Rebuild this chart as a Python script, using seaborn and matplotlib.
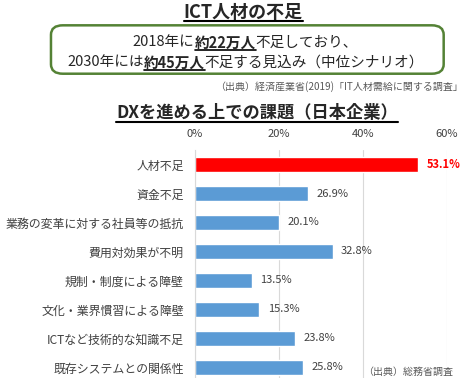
import matplotlib.pyplot as plt
import seaborn as sns
import pandas as pd
from matplotlib.lines import Line2D
from matplotlib.patches import FancyBboxPatch

categories = ["人材不足", "資金不足", "業務の変革に対する社員等の抵抗", "費用対効果が不明",
              "規制・制度による障壁", "文化・業界慣習による障壁", "ICTなど技術的な知識不足",
              "既存システムとの関係性"]
values = [53.1, 26.9, 20.1, 32.8, 13.5, 15.3, 23.8, 25.8]
bar_colors = ["#ff0000"] + ["#5b9bd5"] * 7
xticks = [0, 20, 40, 60]

sns.set_style("white")
plt.rcParams["font.family"] = ["Noto Sans CJK JP", "DejaVu Sans"]

df = pd.DataFrame({"cat": categories, "val": values})

fig = plt.figure(figsize=(4.72, 3.78), dpi=100)
ax = fig.add_axes([0.413, -0.01, 0.534, 0.613])
sns.barplot(data=df, y="cat", x="val", hue="cat", palette=bar_colors, legend=False,
            width=0.5, ax=ax, saturation=1)
ax.set_xlim(0, 60)
ax.set_ylim(7.5, -0.5)
ax.set_xticks(xticks)
ax.set_xticklabels([f"{t}%" for t in xticks])
ax.xaxis.tick_top()
ax.tick_params(axis="x", length=0, labelsize=8, colors="#404040", pad=8)
ax.tick_params(axis="y", length=0, labelsize=8.6, colors="#404040", pad=8)
ax.set_xlabel("")
ax.set_ylabel("")
ax.grid(axis="x", color="#d9d9d9", linewidth=0.8)
ax.set_axisbelow(True)
for s in ["top", "right", "bottom"]:
    ax.spines[s].set_visible(False)
ax.spines["left"].set_color("#d9d9d9")

for i, v in enumerate(values):
    if i == 0:
        ax.text(v + 2, i, f"{v}%", va="center", ha="left", fontsize=8,
                color="#ff0000", fontweight="bold")
    else:
        ax.text(v + 2, i, f"{v}%", va="center", ha="left", fontsize=8, color="#404040")

renderer = fig.canvas.get_renderer()


def underline(t, lw=1.5):
    bb = t.get_window_extent(renderer).transformed(fig.transFigure.inverted())
    fig.add_artist(Line2D([bb.x0, bb.x1], [bb.y0 + 0.002, bb.y0 + 0.002],
                          transform=fig.transFigure, color="black", linewidth=lw))


def segments(parts, y, size, cx):
    # lay out a line of (text, bold, underline) parts centered at cx
    texts = []
    for s, bold, _ in parts:
        texts.append(fig.text(0, y, s, fontsize=size, va="center", ha="left",
                              fontweight="bold" if bold else "normal"))
    widths = [t.get_window_extent(renderer).width / fig.bbox.width for t in texts]
    x = cx - sum(widths) / 2
    for t, w, p in zip(texts, widths, parts):
        t.set_x(x)
        x += w
        if p[2]:
            underline(t, 1.2)


t1 = fig.text(0.515, 0.968, "ICT人材の不足", fontsize=13, fontweight="bold", ha="center", va="center")
underline(t1)

box = FancyBboxPatch((0.108, 0.805), 0.832, 0.128, boxstyle="round,pad=0,rounding_size=0.025",
                     transform=fig.transFigure, facecolor="white", edgecolor="#548235", linewidth=1.8)
fig.add_artist(box)
segments([("2018年に", False, False), ("約22万人", True, True), ("不足しており、", False, False)],
         0.888, 10.5, 0.52)
segments([("2030年には", False, False), ("約45万人", True, True),
          ("不足する見込み（中位シナリオ）", False, False)], 0.835, 10.5, 0.52)

fig.text(0.981, 0.77, "（出典）経済産業省(2019)「IT人材需給に関する調査」", fontsize=7.2,
         color="#595959", ha="right", va="center")

t2 = fig.text(0.545, 0.70, "DXを進める上での課題（日本企業）", fontsize=12.4, fontweight="bold",
              ha="center", va="center")
underline(t2)

fig.text(0.96, 0.016, "（出典）総務省調査", fontsize=7.2, color="#595959", ha="right", va="center")

fig.savefig("out.png", dpi=100)
